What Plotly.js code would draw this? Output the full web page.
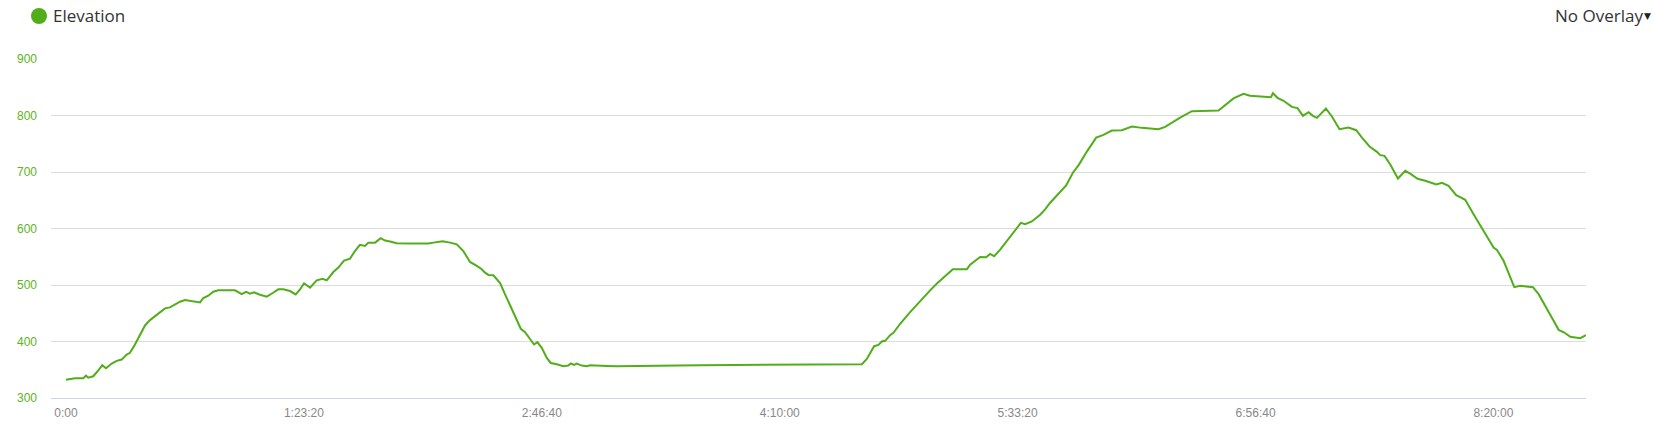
<!DOCTYPE html>
<html>
<head>
<meta charset="utf-8">
<script src="https://cdn.plot.ly/plotly-3.0.1.min.js"></script>
<style>
html,body{margin:0;padding:0;background:#fff;}
#chart{width:1653px;height:442px;}
</style>
</head>
<body>
<div id="chart"></div>
<script>
// Elapsed time (seconds) and elevation (m)
const timeSec = [0,84,189,364,420,469,574,679,763,841,961,1066,1171,1276,1345,1450,1555,1661,1766,1871,1976,2081,2186,2291,2396,2501,2606,2712,2817,2886,2991,3096,3201,3378,3552,3693,3784,3868,3952,4078,4219,4345,4463,4568,4708,4828,4919,5003,5129,5270,5396,5480,5619,5724,5844,5970,6075,6180,6285,6354,6495,6615,6705,6810,6951,7231,7615,7721,7918,8072,8213,8351,8492,8633,8738,8807,8877,8982,9123,9228,9333,9438,9558,9648,9753,9837,9907,9999,10105,10189,10315,10453,10558,10609,10678,10735,10840,10945,11014,11225,11365,11576,11925,12627,13327,14027,14729,15429,16129,16726,16831,16900,16984,17074,17146,17215,17320,17390,17531,17741,17987,18161,18315,18477,18639,18933,19002,19212,19338,19422,19507,19633,19717,19843,19948,20068,20158,20299,20473,20578,20684,20858,21020,21161,21279,21455,21651,21804,21981,22191,22401,22611,22960,23101,23416,23662,24222,24537,24747,24884,25323,25365,25462,25588,25765,25882,25996,26114,26206,26290,26479,26605,26765,26954,27116,27236,27396,27551,27621,27711,27831,27993,28147,28266,28405,28567,28798,28918,29056,29218,29407,29582,29723,29876,30003,30074,30213,30438,30564,30831,30949,31126,31264,31370,31489,31615,31825,31945];

const elevation = [332.5,333.7,335,335,339.6,336,338.5,349,358,352.7,361,365.7,368,377,380,394.7,412.4,428.4,437.9,445,452,458.6,460.4,465.7,470.4,473.4,471.6,471,469.2,477,481,488,490.5,490.5,490.5,484,488,484.6,487,482.8,479.3,485.8,492.3,492.3,489.3,483.4,492.3,503,495.3,508.3,511,508.3,523,530.8,543.2,546.7,560.4,571,569.2,575,575,582.8,578.7,577,574,573.4,573.4,575,577.5,575,572,560,540.8,533.7,527.8,521.9,517.8,517.2,503.5,483.4,463.9,443.8,422.5,416.6,403.6,394.7,398.8,388.8,371,362,359.8,356.2,357.4,361,358.6,361,357.4,356.2,358,358,356.8,356.2,356.8,357.4,358,358.6,358.6,359.2,359.8,359.8,369.2,379.9,391.7,394,400,401.2,411.2,415.4,431.4,452,475.1,490.5,503.6,515.4,527.8,527.8,536.1,549.7,549.1,555,550.9,562.7,571.6,585.2,595.3,610,607.7,612.4,624.3,633.7,645.6,661.5,676.3,698.8,711.8,736.1,760.9,765.7,773.4,774,780.5,778.1,775.7,779.9,796.4,807.7,808.9,830.2,838.5,834.9,832.4,839.5,831.3,826,815.3,813,799.4,805.9,799.4,795.9,812.4,798.2,775.8,778.8,774,761,745.1,735.7,729.8,728.6,713.3,688.5,702.1,696.2,687.9,684.4,677.9,680.8,675.5,659,650.7,625.4,606.5,584.1,566.4,562.2,542.8,496.2,498.5,496.2,483.8,458.4,436.6,420.6,415.9,408.3,405.9,411.2];

const xTickVals = [0,5000,10000,15000,20000,25000,30000];
const xTickText = ["0:00","1:23:20","2:46:40","4:10:00","5:33:20","6:56:40","8:20:00"];
const yTickVals = [300,400,500,600,700,800,900];

const seriesName = "Elevation";
const overlayLabel = "No Overlay";
const overlayArrow = "▼";

const green = "#52ad1b";

const trace = {
  x: timeSec,
  y: elevation,
  type: "scatter",
  mode: "lines",
  name: seriesName,
  line: {color: green, width: 2},
  hoverinfo: "skip"
};

const W = 1535, H = 339, L = 51, T = 59;
function px(x){ return (x - L) / W; }
function py(y){ return (T + H - y) / H; }

const layout = {
  width: 1653,
  height: 442,
  margin: {l: 51, r: 67, t: 59, b: 44},
  paper_bgcolor: "#ffffff",
  plot_bgcolor: "#ffffff",
  showlegend: false,
  font: {family: "Liberation Sans, Arial, sans-serif", size: 12},
  xaxis: {
    range: [-315, 31945],
    tickmode: "array",
    tickvals: xTickVals,
    ticktext: xTickText,
    showgrid: false,
    zeroline: false,
    showline: true,
    linecolor: "#ccd6eb",
    linewidth: 1,
    ticks: "",
    tickfont: {color: "#888888", size: 12, family: "Liberation Sans, Arial, sans-serif"},
    ticklabelstandoff: 4,
    fixedrange: true
  },
  yaxis: {
    range: [300, 900],
    tickmode: "array",
    tickvals: yTickVals,
    showgrid: true,
    gridcolor: "#dcdcdc",
    gridwidth: 1,
    zeroline: false,
    showline: false,
    ticks: "",
    tickfont: {color: "#5cb523", size: 12, family: "Liberation Sans, Arial, sans-serif"},
    ticklabelstandoff: 13,
    fixedrange: true
  },
  shapes: [{
    type: "circle",
    xref: "paper", yref: "paper",
    xsizemode: "pixel", ysizemode: "pixel",
    xanchor: px(39), yanchor: py(16),
    x0: -8, x1: 8, y0: -8, y1: 8,
    fillcolor: green,
    line: {width: 0}
  }],
  annotations: [
    {
      text: seriesName,
      xref: "paper", yref: "paper",
      x: px(51.3), y: py(15.5),
      xanchor: "left", yanchor: "middle",
      showarrow: false,
      font: {family: "Open Sans, sans-serif", size: 17, color: "#333333"}
    },
    {
      text: overlayLabel,
      xref: "paper", yref: "paper",
      x: px(1644.7), y: py(15.5),
      xanchor: "right", yanchor: "middle",
      showarrow: false,
      font: {family: "Open Sans, sans-serif", size: 17, color: "#333333"}
    },
    {
      text: overlayArrow,
      xref: "paper", yref: "paper",
      x: px(1647), y: py(16),
      xanchor: "center", yanchor: "middle",
      showarrow: false,
      font: {family: "DejaVu Sans, sans-serif", size: 9, color: "#222222"}
    }
  ]
};

Plotly.newPlot("chart", [trace], layout, {staticPlot: true, displayModeBar: false});
</script>
</body>
</html>
